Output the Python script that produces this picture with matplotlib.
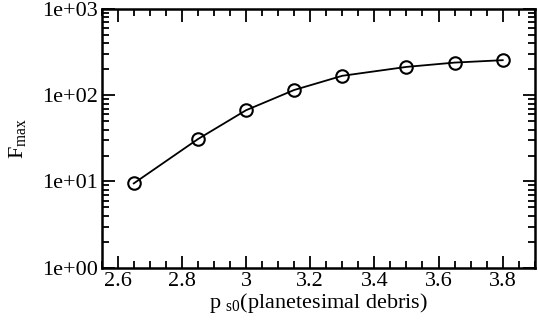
import matplotlib
matplotlib.use('Agg')
import matplotlib.pyplot as plt
from matplotlib.ticker import MultipleLocator, LogLocator, NullFormatter

plt.rcParams['font.family'] = ['Liberation Serif', 'DejaVu Serif']
plt.rcParams['mathtext.fontset'] = 'custom'
plt.rcParams['mathtext.rm'] = 'Liberation Serif'

ps0 = [2.65, 2.85, 3.0, 3.15, 3.3, 3.5, 3.65, 3.8]
fmax = [9.5, 31, 67, 115, 168, 213, 239, 255]
yticks = [1, 10, 100, 1000]
ylabels = ['1e+00', '1e+01', '1e+02', '1e+03']

fig = plt.figure(figsize=(5.38, 3.21), dpi=100)
ax = fig.add_axes([0.189, 0.166, 0.805, 0.806])

ax.plot(ps0, fmax, color='black', lw=1.3, marker='o', ms=9,
        mfc='none', mec='black', mew=1.5)

ax.set_yscale('log')
ax.set_xlim(2.55, 3.9)
ax.set_ylim(1, 1000)
ax.set_yticks(yticks)
ax.set_yticklabels(ylabels)
ax.yaxis.set_minor_locator(LogLocator(base=10, subs=range(2, 10)))
ax.yaxis.set_minor_formatter(NullFormatter())
ax.xaxis.set_minor_locator(MultipleLocator(0.05))
ax.set_xticks([2.6, 2.8, 3.0, 3.2, 3.4, 3.6, 3.8])
ax.set_xticklabels(['2.6', '2.8', '3', '3.2', '3.4', '3.6', '3.8'])

ax.tick_params(which='both', direction='in', top=True, right=True,
               width=1.3, labelsize=16, colors='black')
ax.tick_params(which='major', length=9, pad=3)
ax.tick_params(which='minor', length=5)
for s in ax.spines.values():
    s.set_linewidth(1.8)

ax.set_xlabel(r'p$_{\mathrm{\ s0}}$(planetesimal debris)', fontsize=16, labelpad=0)
ax.set_ylabel(r'F$_{\mathrm{max}}$', fontsize=16, labelpad=9)

fig.savefig('out.png', dpi=100)
